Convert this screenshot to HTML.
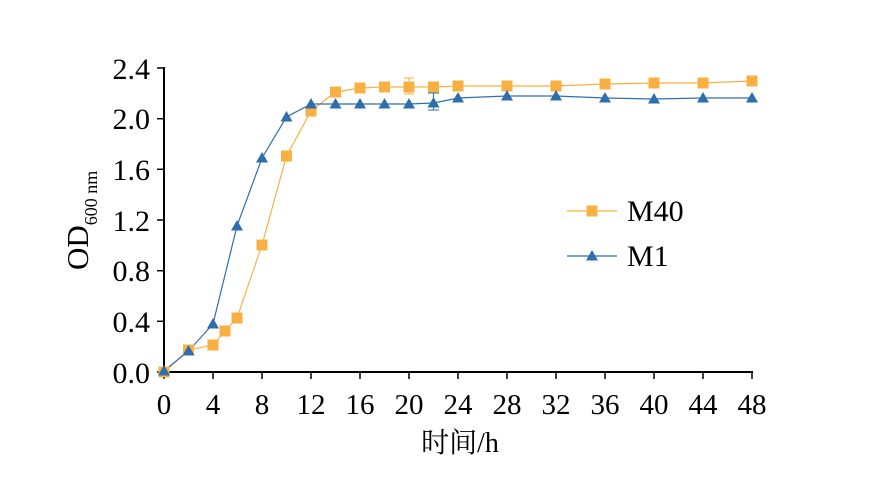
<!DOCTYPE html>
<html><head><meta charset="utf-8"><style>body{margin:0;background:#fff}svg{display:block}</style></head><body>
<svg width="872" height="479" xmlns="http://www.w3.org/2000/svg" font-family="'Liberation Serif','Noto Serif CJK SC',serif">
<defs>
<rect id="sq" x="-5.5" y="-5.5" width="11" height="11" fill="#F9B042"/>
<polygon id="tr" points="0,-6 6,4.5 -6,4.5" fill="#2E6EAD"/>
</defs>
<g stroke="#000" stroke-width="2" fill="none">
<line x1="164" y1="67" x2="164" y2="373"/>
<line x1="163" y1="372" x2="753" y2="372"/>
</g>
<g stroke="#000" stroke-width="1.5">
<line x1="157" y1="68" x2="164" y2="68"/><line x1="157" y1="118.7" x2="164" y2="118.7"/><line x1="157" y1="169.3" x2="164" y2="169.3"/><line x1="157" y1="220" x2="164" y2="220"/><line x1="157" y1="270.7" x2="164" y2="270.7"/><line x1="157" y1="321.3" x2="164" y2="321.3"/><line x1="157" y1="372" x2="164" y2="372"/>
<line x1="164" y1="372" x2="164" y2="379"/><line x1="213" y1="372" x2="213" y2="379"/><line x1="262" y1="372" x2="262" y2="379"/><line x1="311" y1="372" x2="311" y2="379"/><line x1="360" y1="372" x2="360" y2="379"/><line x1="409" y1="372" x2="409" y2="379"/><line x1="458" y1="372" x2="458" y2="379"/><line x1="507" y1="372" x2="507" y2="379"/><line x1="556" y1="372" x2="556" y2="379"/><line x1="605" y1="372" x2="605" y2="379"/><line x1="654" y1="372" x2="654" y2="379"/><line x1="703" y1="372" x2="703" y2="379"/><line x1="752" y1="372" x2="752" y2="379"/>
</g>
<g font-size="30" text-anchor="end">
<text x="150" y="79">2.4</text><text x="150" y="129">2.0</text><text x="150" y="180">1.6</text><text x="150" y="231">1.2</text><text x="150" y="281">0.8</text><text x="150" y="332">0.4</text><text x="150" y="383">0.0</text>
</g>
<g font-size="29" text-anchor="middle">
<text x="164" y="414">0</text><text x="213" y="414">4</text><text x="262" y="414">8</text><text x="311" y="414">12</text><text x="360" y="414">16</text><text x="409" y="414">20</text><text x="458" y="414">24</text><text x="507" y="414">28</text><text x="556" y="414">32</text><text x="605" y="414">36</text><text x="654" y="414">40</text><text x="703" y="414">44</text><text x="752" y="414">48</text>
<text x="460" y="452" font-size="28">时间/h</text>
</g>
<text transform="translate(88,270) rotate(-90)" font-size="31">OD<tspan font-size="18" dy="9">600 nm</tspan></text>
<polyline fill="none" stroke="#F9B042" stroke-width="1.2" points="164,372 188.5,350 213,345 225,331 237,318 262,245 286.5,156 311,111 335.5,92 360,88 384.5,87 409,87 433.5,87 458,86 507,86 556,86 605,84 654,83 703,83 752,81"/>
<polyline fill="none" stroke="#2E6EAD" stroke-width="1.2" points="164,371 188.5,351 213,324 237,226 262,158 286.5,117 311,104 335.5,104 360,104 384.5,104 409,104 433.5,103 458,98 507,96 556,96 605,98 654,99 703,98 752,98"/>
<g stroke="#F9B042" stroke-width="1"><line x1="409" y1="78" x2="409" y2="94"/><line x1="404" y1="78" x2="414" y2="78"/><line x1="404" y1="94" x2="414" y2="94"/></g>
<g stroke="#2E6EAD" stroke-width="1"><line x1="433.5" y1="93" x2="433.5" y2="110"/><line x1="428" y1="110" x2="439" y2="110"/><line x1="428" y1="93" x2="439" y2="93"/></g>
<g>
<use href="#sq" x="164" y="372"/><use href="#sq" x="188.5" y="350"/><use href="#sq" x="213" y="345"/><use href="#sq" x="225" y="331"/><use href="#sq" x="237" y="318"/><use href="#sq" x="262" y="245"/><use href="#sq" x="286.5" y="156"/><use href="#sq" x="311" y="111"/><use href="#sq" x="335.5" y="92"/><use href="#sq" x="360" y="88"/><use href="#sq" x="384.5" y="87"/><use href="#sq" x="409" y="87"/><use href="#sq" x="433.5" y="87"/><use href="#sq" x="458" y="86"/><use href="#sq" x="507" y="86"/><use href="#sq" x="556" y="86"/><use href="#sq" x="605" y="84"/><use href="#sq" x="654" y="83"/><use href="#sq" x="703" y="83"/><use href="#sq" x="752" y="81"/>
</g>
<g>
<use href="#tr" x="164" y="371"/><use href="#tr" x="188.5" y="351"/><use href="#tr" x="213" y="324"/><use href="#tr" x="237" y="226"/><use href="#tr" x="262" y="158"/><use href="#tr" x="286.5" y="117"/><use href="#tr" x="311" y="104"/><use href="#tr" x="335.5" y="104"/><use href="#tr" x="360" y="104"/><use href="#tr" x="384.5" y="104"/><use href="#tr" x="409" y="104"/><use href="#tr" x="433.5" y="103"/><use href="#tr" x="458" y="98"/><use href="#tr" x="507" y="96"/><use href="#tr" x="556" y="96"/><use href="#tr" x="605" y="98"/><use href="#tr" x="654" y="99"/><use href="#tr" x="703" y="98"/><use href="#tr" x="752" y="98"/>
</g>
<line x1="567" y1="211" x2="617" y2="211" stroke="#F9B042" stroke-width="1.2"/><use href="#sq" x="592" y="211"/>
<text x="627" y="221" font-size="30">M40</text>
<line x1="567" y1="256" x2="617" y2="256" stroke="#2E6EAD" stroke-width="1.2"/><use href="#tr" x="592" y="256"/>
<text x="627" y="266" font-size="30">M1</text>
</svg>
</body></html>
